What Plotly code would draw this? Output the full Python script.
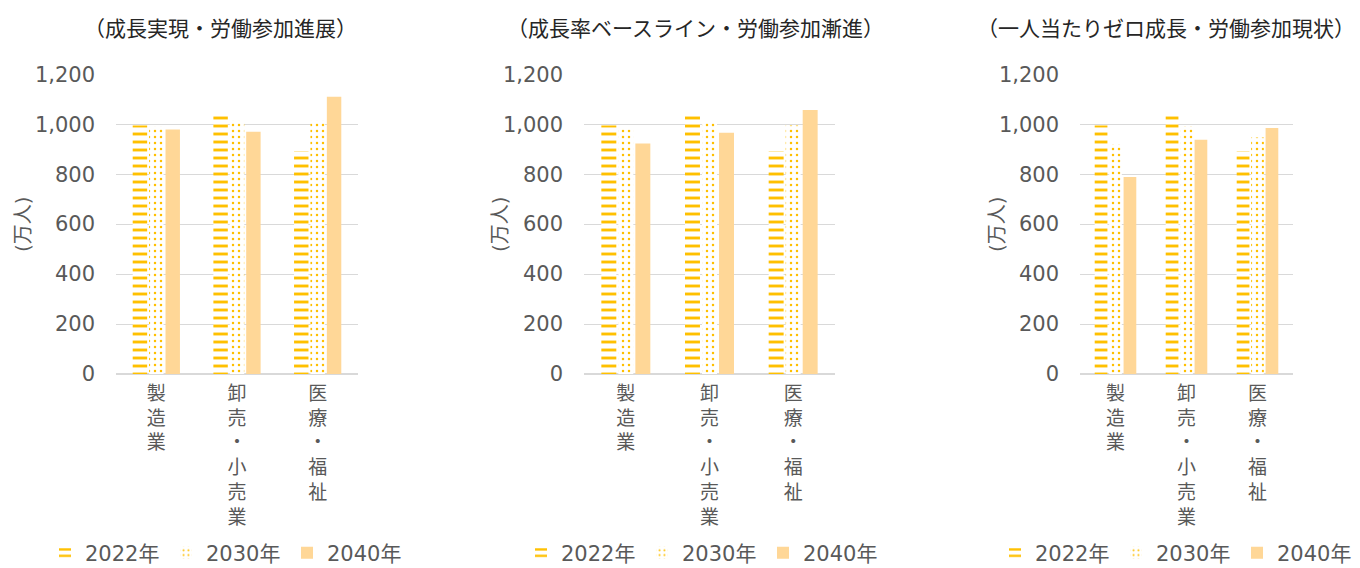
import plotly.graph_objects as go

categories = ["製造業", "卸売・小売業", "医療・福祉"]
years = ["2022年", "2030年", "2040年"]
scenarios = ["（成長実現・労働参加進展）", "（成長率ベースライン・労働参加漸進）", "（一人当たりゼロ成長・労働参加現状）"]

# values (万人)
s1_2022 = [995, 1036, 892]
s1_2030 = [990, 1014, 1014]
s1_2040 = [979, 970, 1110]

s2_2022 = [995, 1036, 892]
s2_2030 = [980, 1013, 995]
s2_2040 = [923, 966, 1057]

s3_2022 = [995, 1036, 892]
s3_2030 = [921, 993, 947]
s3_2040 = [789, 938, 985]

y_ticks = [0, 200, 400, 600, 800, 1000, 1200]

data = [
    [s1_2022, s1_2030, s1_2040],
    [s2_2022, s2_2030, s2_2040],
    [s3_2022, s3_2030, s3_2040],
]

W, H = 1360, 568
GOLD = "#FFC000"
LIGHT = "#FFD797"
TXT = "#595959"
FONT = "DejaVu Sans, Noto Sans CJK JP"

x_doms_px = [(116, 358), (584, 835), (1080, 1293)]
y_dom = [1 - 374 / H, 1 - 74 / H]
title_cx = [220, 695, 1166]
ytitle_cx = [23, 500, 997]
legend_x_px = [45, 521, 995]

vert = ["<br>".join(list(c)) for c in categories]

styles = [
    dict(color=GOLD, pattern=dict(shape="-", fgcolor=GOLD, bgcolor="white", fgopacity=1, size=8, solidity=0.36)),
    dict(color=GOLD, pattern=dict(shape=".", fgcolor=GOLD, bgcolor="white", fgopacity=1, size=6, solidity=0.14)),
    dict(color=LIGHT),
]

fig = go.Figure()
for p in range(3):
    sfx = "" if p == 0 else str(p + 1)
    leg = "legend" + sfx
    for k in range(3):
        fig.add_trace(go.Bar(
            x=categories, y=data[p][k], name=years[k],
            marker=dict(line=dict(width=0), **styles[k]),
            xaxis="x" + sfx, yaxis="y" + sfx, legend=leg,
            hoverinfo="skip",
        ))
    x0, x1 = x_doms_px[p]
    fig.layout["xaxis" + sfx] = dict(
        domain=[x0 / W, x1 / W], anchor="y" + sfx, showgrid=False, zeroline=False,
        showline=False, ticks="", tickmode="array", tickvals=categories, ticktext=vert,
        tickfont=dict(family=FONT, size=19, color=TXT), ticklabelstandoff=6, fixedrange=True,
    )
    fig.layout["yaxis" + sfx] = dict(
        domain=y_dom, anchor="x" + sfx, range=[0, 1201], tickmode="array", tickvals=y_ticks,
        tickformat=",d", showgrid=True, gridcolor="#D9D9D9", gridwidth=1.3,
        zeroline=True, zerolinecolor="#D9D9D9", zerolinewidth=1.6,
        tickfont=dict(family=FONT, size=21, color=TXT), ticklabelstandoff=20, fixedrange=True,
    )
    fig.layout[leg] = dict(
        orientation="h", x=legend_x_px[p] / W, xanchor="left", y=1 - 553 / H, yanchor="middle",
        font=dict(family=FONT, size=21, color=TXT), entrywidth=76, entrywidthmode="pixels",
        bgcolor="rgba(0,0,0,0)", traceorder="normal",
    )
    fig.add_annotation(
        text=scenarios[p], x=title_cx[p] / W, y=1 - 27 / H, xref="paper", yref="paper",
        showarrow=False, font=dict(family="Noto Sans CJK JP", size=21, color="#262626"),
        xanchor="center", yanchor="middle",
    )
    fig.add_annotation(
        text="(万人)", x=ytitle_cx[p] / W, y=1 - 224 / H, xref="paper", yref="paper",
        showarrow=False, textangle=-90, font=dict(family=FONT, size=20, color=TXT),
        xanchor="center", yanchor="middle",
    )

fig.update_layout(
    width=W, height=H, margin=dict(l=0, r=0, t=0, b=0, autoexpand=False),
    paper_bgcolor="white", plot_bgcolor="white",
    barmode="group", bargap=0.39, bargroupgap=0.12,
    showlegend=True,
)

fig.write_html(
    "out.html",
    config={"displayModeBar": False},
    post_script="document.body.style.margin='0';document.body.style.overflow='hidden';",
)
